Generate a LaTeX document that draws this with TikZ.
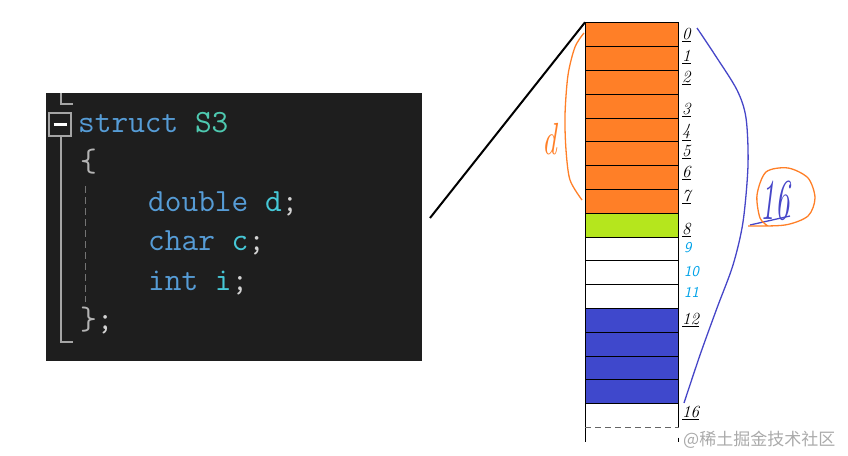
\documentclass[tikz,border=0pt]{standalone}
\usepackage{fontspec}
\newfontfamily\cjk{Noto Sans CJK SC}
\usepackage{tikz}
\usetikzlibrary{
	positioning,
	calc
}
\definecolor{CodeBg}{RGB}{30,30,30}
\definecolor{CodeKw}{RGB}{86,156,214}
\definecolor{CodeType}{RGB}{78,201,176}
\definecolor{CodeVar}{RGB}{70,200,215}
\definecolor{CodePunct}{RGB}{212,212,212}
\definecolor{CodeBrace}{RGB}{180,180,180}
\definecolor{FoldGray}{RGB}{165,165,165}
\definecolor{MemOrange}{RGB}{255,127,39}
\definecolor{MemGreen}{RGB}{181,230,29}
\definecolor{MemBlue}{RGB}{63,72,204}
\definecolor{PenBlue}{RGB}{70,70,200}
\definecolor{PenCyan}{RGB}{0,162,232}
\definecolor{MarkGray}{RGB}{170,170,170}

\tikzset{
	codetext/.style={
		inner sep=0pt,
		anchor=base west,
		font=\ttfamily\fontsize{32.4}{32.4}\selectfont
	},
	cell/.style={
		draw=black,
		line width=0.8pt,
		minimum width=93pt,
		minimum height=23.8pt,
		inner sep=0pt
	},
	offset/.style={
		inner sep=0pt,
		anchor=west,
		font=\fontsize{17}{17}\selectfont\itshape
	},
	penoffset/.style={
		inner sep=0pt,
		anchor=west,
		text=PenCyan,
		font=\sffamily\fontsize{15}{15}\selectfont\itshape
	}
}

\begin{document}
\begin{tikzpicture}[x=1pt,y=-1pt]
	
	\useasboundingbox (0,0) rectangle (848,455);
	
	% Code window
	\fill[
	CodeBg
	]
	(46,93) rectangle (422,361);
	
	\draw[
	FoldGray,
	line width=1.5pt
	]
	(61,93) -- (61,104) -- (73,104);
	
	\draw[
	FoldGray,
	line width=2pt
	]
	(49,113) rectangle (71,136);
	
	\draw[
	white,
	line width=2.2pt
	]
	(53.5,124.5) -- (66.5,124.5);
	
	\draw[
	FoldGray,
	line width=1.5pt
	]
	(61,136) -- (61,342) -- (73,342);
	
	\draw[
	FoldGray!70!black,
	line width=1pt,
	dash pattern=on 7pt off 4pt
	]
	(85,186) -- (85,302);
	
	\node[codetext] (lnStruct) at (78,132)
	{\color{CodeKw}struct \color{CodeType}S3};
	\node[codetext] (lnOpen) at (80,171.5)
	{\color{CodeBrace}\{};
	\node[codetext] (lnDouble) at (148,211)
	{\color{CodeKw}double \color{CodeVar}d\color{CodePunct};};
	\node[codetext] (lnChar) at (148,250.5)
	{\color{CodeKw}char \color{CodeVar}c\color{CodePunct};};
	\node[codetext] (lnInt) at (148,290)
	{\color{CodeKw}int \color{CodeVar}i\color{CodePunct};};
	\node[codetext] (lnClose) at (80,329.5)
	{\color{CodeBrace}\}\color{CodePunct};};
	
	% Memory column
	\foreach \n/\col in {0/MemOrange,1/MemOrange,2/MemOrange,3/MemOrange,
		4/MemOrange,5/MemOrange,6/MemOrange,7/MemOrange,8/MemGreen,
		9/white,10/white,11/white,12/MemBlue,13/MemBlue,14/MemBlue,15/MemBlue}
	\node[cell, fill=\col] (cell\n) at (631.9,{34.6+23.8*\n}) {};
	
	\node[
	cell,
	draw=none
	] (cell16) at (631.9,{34.6+23.8*16}) {};
	
	\draw[
	black,
	line width=0.8pt
	]
	(cell16.south east) -- (cell15.south east)
	(cell15.south west) -- ($(cell16.south west)+(0,14)$);
	
	\draw[
	black!60,
	line width=0.9pt,
	dash pattern=on 6pt off 4pt
	]
	(cell16.south west) -- (cell16.south east);
	
	\draw[
	black,
	line width=0.8pt
	]
	($(cell16.south east)+(0,10)$) -- ($(cell16.south east)+(0,14)$);
	
	% Offsets
	\foreach \k/\y in {0/35,1/57,2/78,3/110,4/132,5/152,6/173,7/197,8/230,12/320,16/413}
	\node[offset] (off\k) at (682,\y) {\underline{\k}};
	
	\foreach \k/\y in {9/248,10/272,11/292}
	\node[penoffset] (off\k) at (684,\y) {\k};
	
	% Link from code to memory
	\coordinate (codeTip) at (430,218);
	\draw[
	black,
	line width=2pt
	]
	(codeTip) -- (cell0.north west);
	
	% Size of d
	\draw[
	MemOrange,
	line width=1.3pt
	]
	plot[smooth] coordinates {(584,33) (575,47) (568,75) (565,115) (566,150) (570,180) (582,200)};
	
	\node[
	inner sep=0pt,
	text=MemOrange
	] (sizeD) at (550,139)
	{\scalebox{0.65}[1]{\fontsize{45}{45}\selectfont\itshape d}};
	
	% Total size
	\draw[
	PenBlue,
	line width=1.3pt
	]
	plot[smooth] coordinates {(697,28) (715,55) (737,90) (746,118) (748,165) (743,222) (733,265) (717,308) (700,355) (684,403)};
	
	\node[
	inner sep=0pt,
	text=PenBlue
	] (total) at (775,201)
	{\scalebox{0.5}[1]{\fontsize{58}{58}\selectfont\itshape 16}};
	
	\draw[
	PenBlue,
	line width=1.3pt
	]
	(750,225) -- (790,216);
	
	\draw[
	MemOrange,
	line width=1.3pt
	]
	plot[smooth] coordinates {(748,226) (785,225) (808,216) (815,198) (808,178) (788,168) (766,172) (757,195) (760,218) (768,226)};
	
	% Watermark
	\node[
	inner sep=0pt,
	anchor=west,
	text=MarkGray,
	font=\cjk\fontsize{17}{17}\selectfont
	] (mark) at (683,440) {@稀土掘金技术社区};
	
\end{tikzpicture}
\end{document}
